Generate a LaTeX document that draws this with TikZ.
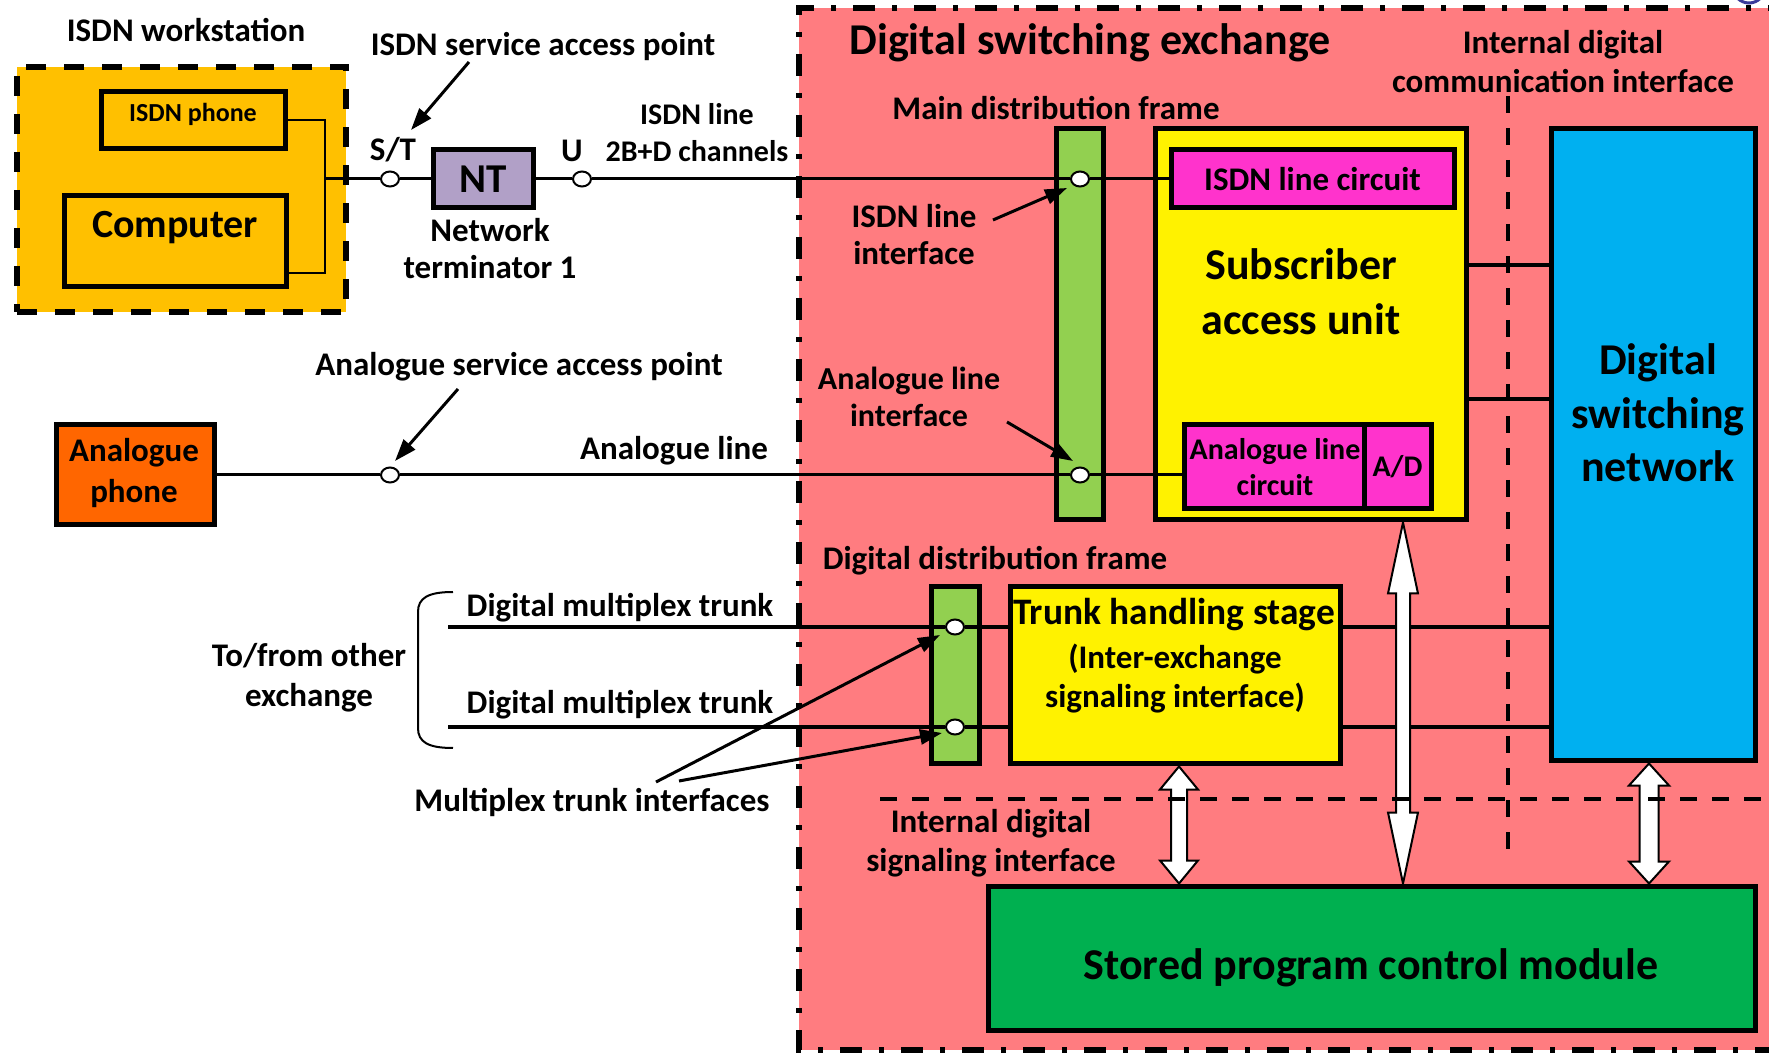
\documentclass[tikz,border=0pt]{standalone}
\usepackage{fontspec}
\setmainfont{Carlito}
\usetikzlibrary{calc,fit,shapes.geometric,arrows.meta}

\definecolor{wsorange}{HTML}{FFC000}
\definecolor{exchpink}{HTML}{FF7C80}
\definecolor{aphonecol}{HTML}{FF6600}
\definecolor{ntlav}{HTML}{B1A0C7}
\definecolor{framegreen}{HTML}{92D050}
\definecolor{circuitpink}{HTML}{FF33CC}
\definecolor{dsnblue}{HTML}{00B0F0}
\definecolor{spcgreen}{HTML}{00B050}
\definecolor{logoblue}{HTML}{3A3A9A}

% hollow double-headed arrow: top point, bottom point, shaft half-width,
% head half-width, head length (all in picture units)
\newcommand\hollowdbl[5]{%
  \draw[hollow] (#1) -- ($(#1)+(#4,#5)$) -- ($(#1)+(#3,#5)$)
    -- ($(#2)+(#3,-#5)$) -- ($(#2)+(#4,-#5)$) -- (#2)
    -- ($(#2)+(-#4,-#5)$) -- ($(#2)+(-#3,-#5)$)
    -- ($(#1)+(-#3,#5)$) -- ($(#1)+(-#4,#5)$) -- cycle;}

\begin{document}
\begin{tikzpicture}[x=0.5pt,y=-0.5pt,
  lbl/.style={font=\fontsize{16.5}{18.5}\selectfont\bfseries, align=center, inner sep=0pt},
  midtxt/.style={font=\fontsize{15}{18}\selectfont\bfseries, align=center, inner sep=0pt},
  bigtxt/.style={font=\fontsize{22}{27.5}\selectfont\bfseries, align=center, inner sep=0pt},
  box/.style={draw, line width=2.5pt, inner sep=0pt},
  wsline/.style={line width=3pt, dash pattern=on 10pt off 9pt},
  exchline/.style={line width=2.6pt, dash pattern=on 11pt off 8.5pt on 2.5pt off 8.5pt},
  port/.style={ellipse, draw, fill=white, line width=1pt, minimum width=9pt, minimum height=7.5pt, inner sep=0pt},
  thinwire/.style={line width=1pt},
  wire/.style={line width=1.5pt},
  heavy/.style={line width=2.2pt},
  pointer/.style={line width=1.5pt, -{Triangle[length=11pt,width=7.5pt]}},
  hollow/.style={draw, fill=white, line width=1pt, line join=miter},
  divider/.style={line width=2pt, dash pattern=on 8.5pt off 7.5pt},
]
\useasboundingbox (0,0) rectangle (1769,1053);
\clip (0,0) rectangle (1769,1053);

% ---------------- exchange area ----------------
\fill[exchpink] (799,8) rectangle (1790,1050);
\draw[exchline] (1790,8) -- (799,8) -- (799,1050) -- (1790,1050);
\draw[line width=1.5pt, draw=logoblue] (1749,-13) circle (16);

% ---------------- ISDN workstation ----------------
\node[box, wsline, fill=wsorange, fit={(17,67) (346,312)}] (ws) {};
\node[lbl] (wslbl) at (186,30) {ISDN workstation};
\node[box, fill=wsorange, fit={(101,92) (285,149)}] (phone) {};
\node[font=\fontsize{13}{15}\selectfont\bfseries, inner sep=0pt] (phonetxt) at (193,114) {ISDN phone};
\node[box, fill=wsorange, fit={(64,196) (286,287)}] (comp) {};
\node[font=\fontsize{20}{24}\selectfont\bfseries, inner sep=0pt] (comptxt) at (175,228) {Computer};

\coordinate (wsbus) at (325,179);
\coordinate (compport) at (286,273);
\draw[thinwire] (phone.east) -| (wsbus) |- (compport);

% ---------------- ISDN access ----------------
\node[port] (st) at (390,179) {};
\node[box, fill=ntlav, fit={(433,150) (533,208)}] (nt) {};
\node[font=\fontsize{20.5}{24}\selectfont\bfseries, inner sep=0pt] (nttxt) at (nt) {NT};
\node[port] (u) at (582,179) {};
\node[lbl] (stlbl) at (393,150) {S/T};
\node[lbl] (ulbl) at (572,151) {U};
\node[lbl, font=\fontsize{15}{18.5}\selectfont\bfseries] (isdnline) at (697,133) {ISDN line\\2B+D channels};
\node[lbl] (ntlbl) at (490,249) {Network\\terminator 1};
\node[lbl] (isaplbl) at (543,47) {ISDN service access point};

% ---------------- analogue access ----------------
\node[box, fill=aphonecol, fit={(56,425) (214,525)}] (aphone) {};
\node[lbl, font=\fontsize{16.5}{20.3}\selectfont\bfseries] (aphonetxt) at (134,473) {Analogue\\phone};
\node[port] (ast) at (390,475) {};
\node[lbl] (asaplbl) at (519,367) {Analogue service access point};
\node[lbl] (alinelbl) at (674,451) {Analogue line};

% ---------------- main distribution frame and subscriber unit ----------------
\node[box, fill=framegreen, fit={(1056,129) (1103,520)}] (mdf) {};
\node[box, fill=yellow, fit={(1155,129) (1466,520)}] (sau) {};
\node[box, fill=circuitpink, fit={(1171,150) (1454,208)}] (ilc) {};
\node[lbl] (ilctxt) at (ilc) {ISDN line circuit};
\node[bigtxt] (saulbl) at (1301,292) {Subscriber\\access unit};
\node[box, fill=circuitpink, fit={(1184,425) (1364,509)}] (alc) {};
\node[box, fill=circuitpink, fit={(1364,425) (1431,509)}] (ad) {};
\node[midtxt] (alctxt) at (1275,467) {Analogue line\\circuit};
\node[midtxt] (adtxt) at (ad) {A/D};

\node[port] (mdf1) at (1080,179) {};
\node[port] (mdf2) at (1080,475) {};
\coordinate (alcin) at (alc.west |- mdf2);

\draw[wire] (wsbus) -- (st);
\draw[wire] (st) -- (nt);
\draw[wire] (nt) -- (u);
\draw[wire] (u) -- (mdf1);
\draw[wire] (mdf1) -- (ilc);
\draw[wire] (aphone) -- (ast);
\draw[wire] (ast) -- (mdf2);
\draw[wire] (mdf2) -- (alcin);

% ---------------- digital switching network ----------------
\node[box, fill=dsnblue, fit={(1551,129) (1755,761)}] (dsn) {};
\node[bigtxt, font=\fontsize{22}{26.8}\selectfont\bfseries] (dsntxt) at (1658,413) {Digital\\switching\\network};
\coordinate (ya) at (0,265);
\coordinate (yb) at (0,399);
\draw[heavy] (sau.east |- ya) -- (dsn.west |- ya);
\draw[heavy] (sau.east |- yb) -- (dsn.west |- yb);

% ---------------- trunks ----------------
\node[box, fill=framegreen, fit={(931,587) (979,764)}] (ddf) {};
\node[box, fill=yellow, fit={(1010,587) (1340,764)}] (ths) {};
\node[lbl, font=\fontsize{18.7}{22}\selectfont\bfseries] (thstxt1) at (1174,615) {Trunk handling stage};
\node[lbl] (thstxt2) at (1175,659) {(Inter-exchange};
\node[lbl] (thstxt3) at (1175,698) {signaling interface)};
\node[port] (d1) at (955,627) {};
\node[port] (d2) at (955,727) {};
\coordinate (tr1) at (448,627);
\coordinate (tr2) at (448,727);
\draw[heavy] (tr1) -- (d1);
\draw[heavy] (tr2) -- (d2);
\draw[heavy] (d1) -- (ths.west |- d1);
\draw[heavy] (d2) -- (ths.west |- d2);
\draw[heavy] (ths.east |- d1) -- (dsn.west |- d1);
\draw[heavy] (ths.east |- d2) -- (dsn.west |- d2);

\node[lbl] (dmt1) at (620,608) {Digital multiplex trunk};
\node[lbl] (dmt2) at (620,705) {Digital multiplex trunk};
\node[lbl, font=\fontsize{16.5}{20}\selectfont\bfseries] (tofrom) at (309,678) {To/from other\\exchange};
\node[lbl] (mti) at (592,802) {Multiplex trunk interfaces};
\draw[line width=1pt] (453,592) .. controls (428,592) and (418,598) .. (418,612)
  -- (418,728) .. controls (418,742) and (428,748) .. (453,748);

% ---------------- stored program control ----------------
\node[box, fill=spcgreen, fit={(988,886) (1755,1030)}] (spc) {};
\node[bigtxt] (spctxt) at (1371,968) {Stored program control module};

\coordinate (xa) at (1179,0);
\coordinate (xb) at (1403,0);
\coordinate (xc) at (1649,0);
\coordinate (a1t) at (ths.south -| xa);
\coordinate (a1b) at (spc.north -| xa);
\coordinate (a2t) at (sau.south -| xb);
\coordinate (a2b) at (spc.north -| xb);
\coordinate (a3t) at (dsn.south -| xc);
\coordinate (a3b) at (spc.north -| xc);
\hollowdbl{a1t}{a1b}{8}{19}{23}
\hollowdbl{a2t}{a2b}{7}{15}{71}
\hollowdbl{a3t}{a3b}{9.5}{20}{22}

% ---------------- interface boundaries ----------------
\coordinate (vdtop) at (1508,96);
\coordinate (vdbot) at (1508,850);
\draw[divider] (vdtop) -- (vdbot);
\coordinate (hdl) at (880,799);
\coordinate (hdr) at (1780,799);
\draw[divider] (hdl) -- (hdr);

% ---------------- exchange labels ----------------
\node[bigtxt] (dsetitle) at (1090,43) {Digital switching exchange};
\node[lbl, font=\fontsize{16.5}{19.5}\selectfont\bfseries] (idci) at (1563,62) {Internal digital\\communication interface};
\node[lbl] (mdflbl) at (1056,108) {Main distribution frame};
\node[lbl] (ilil) at (914,235) {ISDN line\\interface};
\node[lbl, font=\fontsize{16}{18.5}\selectfont\bfseries] (alil) at (909,397) {Analogue line\\interface};
\node[lbl] (ddflbl) at (995,561) {Digital distribution frame};
\node[lbl, font=\fontsize{16.5}{19.5}\selectfont\bfseries] (idsi) at (991,843) {Internal digital\\signaling interface};

% ---------------- label pointers ----------------
\coordinate (p1s) at (469,62);   \coordinate (p1e) at (411,130);
\coordinate (p2s) at (458,389);  \coordinate (p2e) at (395,461);
\coordinate (p3s) at (993,220);  \coordinate (p3e) at (1067,188);
\coordinate (p4s) at (1007,422); \coordinate (p4e) at (1073,461);
\coordinate (p5s) at (656,782);  \coordinate (p5e) at (940,635);
\coordinate (p6s) at (679,781);  \coordinate (p6e) at (942,733);
\draw[pointer] (p1s) -- (p1e);
\draw[pointer] (p2s) -- (p2e);
\draw[pointer] (p3s) -- (p3e);
\draw[pointer] (p4s) -- (p4e);
\draw[pointer] (p5s) -- (p5e);
\draw[pointer] (p6s) -- (p6e);
\end{tikzpicture}
\end{document}
